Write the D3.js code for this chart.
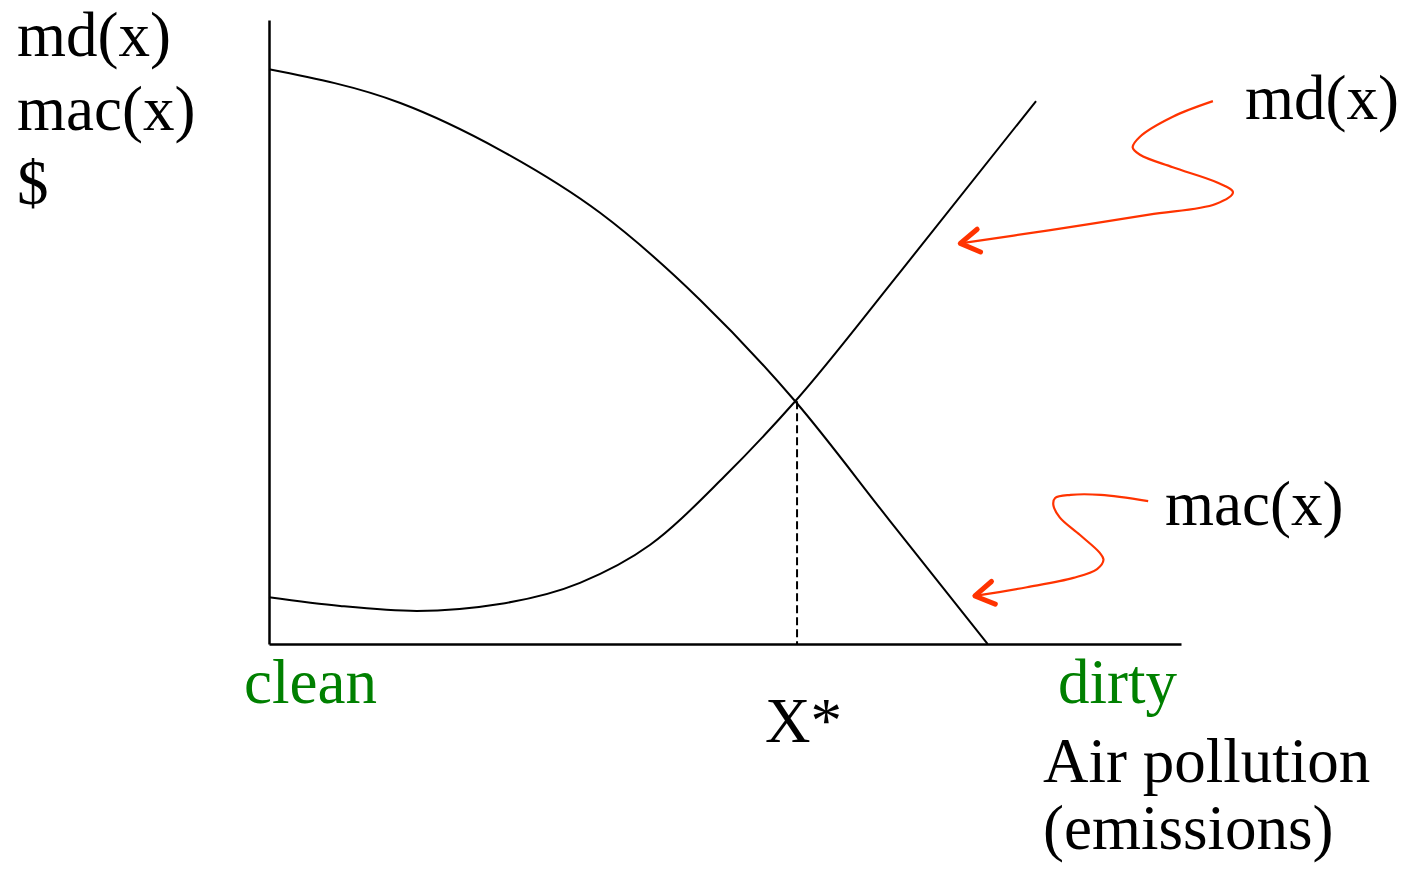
<!DOCTYPE html>
<html>
<head>
<meta charset="utf-8">
<script src="https://cdn.jsdelivr.net/npm/d3@7"></script>
<style>
  body { margin: 0; background: #fff; }
  text { font-family: "Liberation Serif", "Times New Roman", serif; }
</style>
</head>
<body>
<div id="chart"></div>
<script>
// emissions (0 = clean, 100 = dirty) and $ values
const macX = [0, 14.4, 25.3, 36.3, 47.3, 57.7, 68.1, 78.8];
const macY = [92.1, 86.7, 79.2, 69.1, 55.1, 38.9, 19.7, 0];

const mdX = [0, 7.8, 16.2, 25.3, 34.1, 41.8, 49.9, 57.7, 69.2, 84.1];
const mdY = [7.5, 6.1, 5.3, 6.4, 9.8, 15.9, 26.8, 38.9, 59.6, 87.0];

const xStar = 57.9;

// red squiggly pointers (same units as the chart)
const mdPointerX = [103.5, 99.1, 95.5, 94.7, 95.5, 99.1, 103.9, 105.7, 103.8, 96.5, 85.5, 75.8];
const mdPointerY = [87.0, 84.5, 81.3, 79.6, 78.4, 76.4, 74.0, 72.4, 70.5, 68.8, 66.3, 64.2];
const macPointerX = [96.4, 91.2, 87.9, 86.2, 86.0, 86.7, 88.9, 91.1, 91.5, 90.8, 88.2, 83.1, 77.4];
const macPointerY = [22.9, 23.9, 23.9, 23.4, 22.3, 20.3, 17.5, 14.6, 13.5, 12.0, 10.6, 9.1, 7.7];

const yLabels = ["md(x)", "mac(x)", "$"];
const xLabels = ["Air pollution", "(emissions)"];

const width = 1406, height = 871;

const svg = d3.select("#chart")
  .append("svg")
  .attr("width", width)
  .attr("height", height);

const x = d3.scaleLinear().domain([0, 100]).range([269, 1181]);
const y = d3.scaleLinear().domain([0, 100]).range([644, 20]);

// axes, no ticks
svg.append("g")
  .attr("transform", `translate(0,${y(0)})`)
  .call(d3.axisBottom(x).tickValues([]).tickSizeOuter(0))
  .select(".domain").attr("stroke", "#000").attr("stroke-width", 2.5);

svg.append("g")
  .attr("transform", `translate(${x(0)},0)`)
  .call(d3.axisLeft(y).tickValues([]).tickSizeOuter(0))
  .select(".domain").attr("stroke", "#000").attr("stroke-width", 2.5);

const curveLine = d3.line()
  .x(d => x(d[0]))
  .y(d => y(d[1]))
  .curve(d3.curveMonotoneX);

const line = d3.line()
  .x(d => x(d[0]))
  .y(d => y(d[1]))
  .curve(d3.curveCatmullRom.alpha(0.5));

const macData = d3.zip(macX, macY);
const mdData = d3.zip(mdX, mdY);

svg.append("path")
  .datum(macData)
  .attr("d", curveLine)
  .attr("fill", "none")
  .attr("stroke", "#000")
  .attr("stroke-width", 2);

svg.append("path")
  .datum(mdData)
  .attr("d", curveLine)
  .attr("fill", "none")
  .attr("stroke", "#000")
  .attr("stroke-width", 2);

// dashed drop line at X*
svg.append("line")
  .attr("x1", x(xStar)).attr("x2", x(xStar))
  .attr("y1", y(38.9)).attr("y2", y(0))
  .attr("stroke", "#000")
  .attr("stroke-width", 2)
  .attr("stroke-dasharray", "8,4");

// pointers
const red = "#ff3300";
function pointer(px, py) {
  const pts = d3.zip(px, py);
  svg.append("path")
    .datum(pts)
    .attr("d", line)
    .attr("fill", "none")
    .attr("stroke", red)
    .attr("stroke-width", 2.2);

  // arrow head at the last point
  const tip = pts[pts.length - 1];
  const prev = pts[pts.length - 2];
  const ang = Math.atan2(y(tip[1]) - y(prev[1]), x(tip[0]) - x(prev[0]));
  const len = 22, spread = 0.55;
  const tx = x(tip[0]), ty = y(tip[1]);
  const head = [
    [tx - len * Math.cos(ang - spread), ty - len * Math.sin(ang - spread)],
    [tx, ty],
    [tx - len * Math.cos(ang + spread), ty - len * Math.sin(ang + spread)]
  ];
  svg.append("path")
    .attr("d", d3.line()(head))
    .attr("fill", "none")
    .attr("stroke", red)
    .attr("stroke-width", 5)
    .attr("stroke-linecap", "round")
    .attr("stroke-linejoin", "round");
}
pointer(mdPointerX, mdPointerY);
pointer(macPointerX, macPointerY);

const fs = 63;

// y axis title
svg.selectAll(".ylab")
  .data(yLabels)
  .enter()
  .append("text")
  .attr("x", 17)
  .attr("y", (d, i) => 56 + i * 74)
  .style("font-size", fs + "px")
  .text(d => d);

// curve labels
svg.append("text")
  .attr("x", 1245).attr("y", 119)
  .style("font-size", fs + "px")
  .text("md(x)");

svg.append("text")
  .attr("x", 1165).attr("y", 525)
  .style("font-size", fs + "px")
  .text("mac(x)");

// ends of the x axis
svg.append("text")
  .attr("x", 244).attr("y", 703)
  .style("font-size", fs + "px")
  .attr("fill", "#008000")
  .text("clean");

svg.append("text")
  .attr("x", 1058).attr("y", 703)
  .style("font-size", fs + "px")
  .attr("fill", "#008000")
  .text("dirty");

svg.append("text")
  .attr("x", 765).attr("y", 742)
  .style("font-size", fs + "px")
  .text("X*");

svg.selectAll(".xlab")
  .data(xLabels)
  .enter()
  .append("text")
  .attr("x", 1043)
  .attr("y", (d, i) => 782 + i * 67)
  .style("font-size", fs + "px")
  .text(d => d);
</script>
</body>
</html>
